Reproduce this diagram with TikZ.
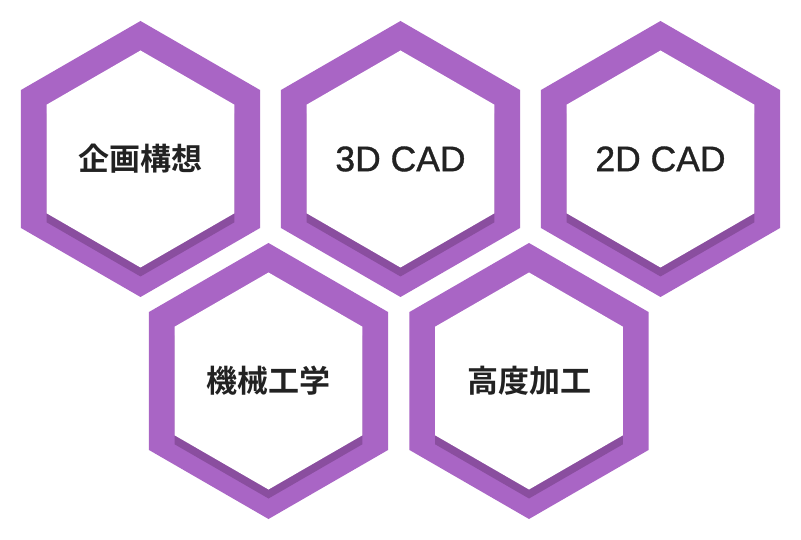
\documentclass[tikz,border=0pt]{standalone}
\usepackage{fontspec}
\newfontfamily\cjk{Noto Sans CJK JP}[BoldFont={Noto Sans CJK JP Bold}]
\newfontfamily\latin{Liberation Sans}[FakeBold=1]
\definecolor{hexpurple}{HTML}{A965C5}
\definecolor{hexshadow}{HTML}{8A4E9F}
\definecolor{hextext}{HTML}{222222}
\tikzset{
  hexouter/.style={fill=hexpurple},
  hexshade/.style={fill=hexshadow},
  hexinner/.style={fill=white},
  cjklabel/.style={text=hextext, font=\cjk\bfseries\fontsize{31}{31}\selectfont, inner sep=0pt},
  latlabel/.style={text=hextext, font=\latin\fontsize{35.5}{35.5}\selectfont, inner sep=0pt},
}
\newcommand\myhex[3]{%
  \fill[#3] (#1) +(90:#2) -- +(150:#2) -- +(210:#2) -- +(270:#2) -- +(330:#2) -- +(30:#2) -- cycle;}
\begin{document}
\begin{tikzpicture}[x=1pt,y=-1pt]
\useasboundingbox (0,0) rectangle (801,540);
\fill[white] (0,0) rectangle (801,540);
\foreach \n/\x/\y in {c1/140.5/159, c2/400.5/159, c3/660.5/159, c4/268.5/381, c5/529/381}{
  \coordinate (\n) at (\x,\y);
  \coordinate (\n s) at (\x,\y+9);
  \myhex{\n}{138}{hexouter}
  \myhex{\n s}{108.5}{hexshade}
  \myhex{\n}{108.5}{hexinner}
}
\node[cjklabel] (t1) at (c1) {企画構想};
\node[latlabel] (t2) at (c2) {3D CAD};
\node[latlabel] (t3) at (c3) {2D CAD};
\node[cjklabel] (t4) at (c4) {機械工学};
\node[cjklabel] (t5) at (c5) {高度加工};
\end{tikzpicture}
\end{document}
